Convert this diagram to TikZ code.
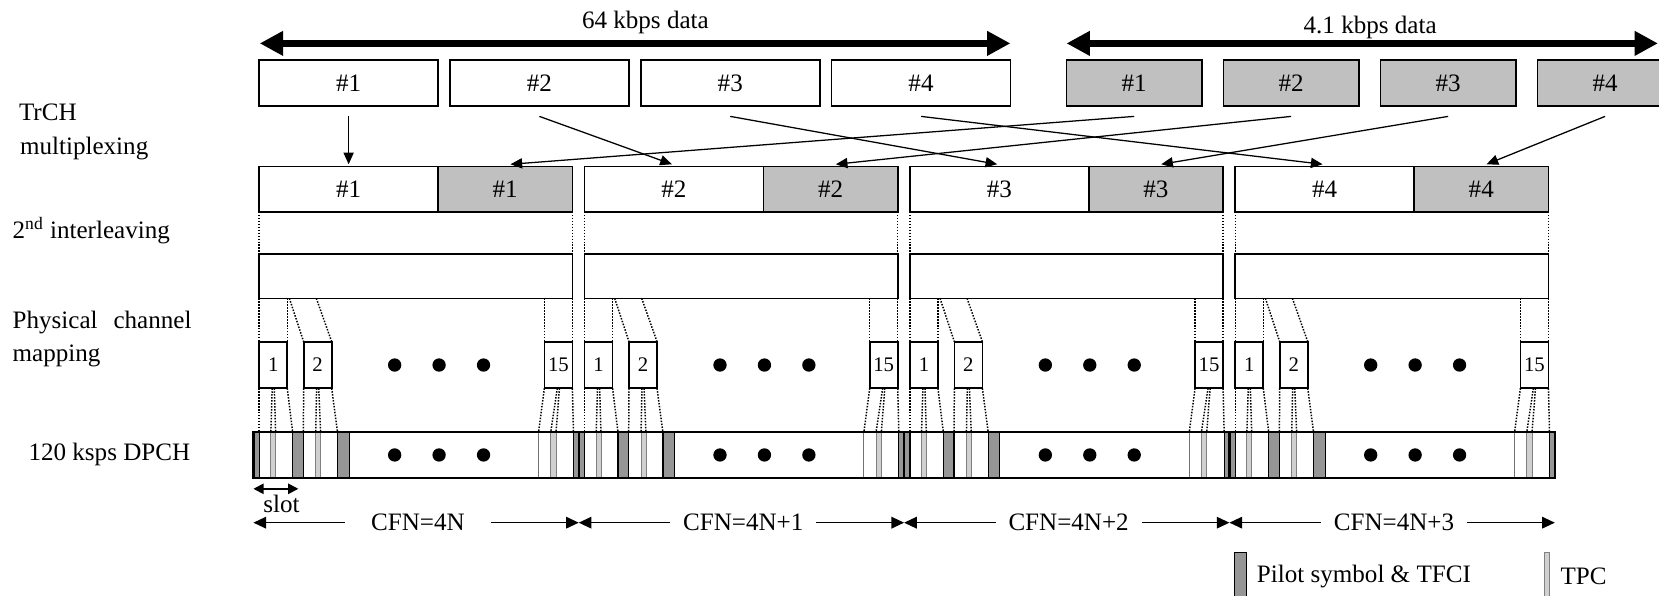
\documentclass[tikz,border=0pt]{standalone}
\usepackage{fontspec}
\setmainfont{Liberation Serif}
\usetikzlibrary{arrows.meta}
\definecolor{silver}{HTML}{C0C0C0}
\definecolor{pilotgray}{HTML}{969696}
\definecolor{tpcgray}{HTML}{D0D0D0}
\begin{document}
\begin{tikzpicture}[x=0.5pt,y=-0.5pt,
  font=\fontsize{11.85}{14}\selectfont,
  box/.style={draw, line width=0.8pt, inner sep=0pt, outer sep=0pt, minimum height=21.5pt},
  wbox/.style={box, fill=white},
  gbox/.style={box, fill=silver},
  ibox/.style={box, minimum height=21pt, minimum width=148pt},
  sbox/.style={draw, line width=0.8pt, inner sep=0pt, outer sep=0pt, minimum height=22pt, minimum width=13.25pt, font=\fontsize{9.8}{11}\selectfont},
  part/.style={inner sep=0pt, outer sep=0pt, minimum height=21.5pt},
  slotpart/.style={part, draw=black!55, line width=0.5pt, fill=white},
  tpcpart/.style={part, draw=black!50, line width=0.4pt, fill=tpcgray},
  pilotpart/.style={part, draw=black, line width=0.6pt, fill=pilotgray},
  grpbox/.style={part, minimum width=153.75pt, fill=white},
  dotline/.style={line width=0.7pt, dash pattern=on 0.7pt off 0.7pt},
  conn/.style={line width=0.6pt, -{Triangle[length=5.5pt,width=4.8pt]}},
  bigarrow/.style={line width=3.4pt, {Triangle[length=11pt,width=11pt]}-{Triangle[length=11pt,width=11pt]}},
  cfnarrow/.style={line width=0.6pt, -{Triangle[length=6pt,width=5.5pt]}},
  slotarrow/.style={line width=0.9pt, {Triangle[length=4.8pt,width=4.8pt]}-{Triangle[length=4.8pt,width=4.8pt]}},
  lbl/.style={inner sep=0pt, outer sep=0pt},
]
\useasboundingbox (0,0) rectangle (1568,563);
\clip (0,0) rectangle (1568,563);

% data rate arrows
\coordinate (a64l) at (245.5,41);
\coordinate (a64r) at (955,41);
\draw[bigarrow] (a64l) -- (a64r);
\node[lbl] (l64) at (610,21) {64 kbps data};
\coordinate (a41l) at (1008,41);
\coordinate (a41r) at (1567,41);
\draw[bigarrow] (a41l) -- (a41r);
\node[lbl] (l41) at (1295,26) {4.1 kbps data};

% top boxes
\foreach \i/\x in {1/329.5,2/509.8,3/690.2,4/870.5}
  \node[wbox, minimum width=84.5pt] (t\i) at (\x,78.5) {\#\i};
\foreach \i/\x in {1/1072,2/1220.3,3/1368.7,4/1517}
  \node[gbox, minimum width=64pt] (u\i) at (\x,78.5) {\#\i};

% left labels
\node[lbl, anchor=west] (lab1) at (18,106) {TrCH};
\node[lbl, anchor=west] (lab2) at (19,140) {multiplexing};
\node[lbl, anchor=west] (lab3) at (12,218) {2\textsuperscript{nd} interleaving};
\node[lbl, anchor=base west] (lab4) at (12,310) {Physical};
\node[lbl, anchor=base east] (lab5) at (181,310) {channel};
\node[lbl, anchor=west] (lab6) at (12,336) {mapping};
\node[lbl, anchor=west] (lab7) at (27,430) {120 ksps DPCH};

\foreach \i in {1,2,3,4}{
  \pgfmathsetmacro{\ofs}{307.5*(\i-1)}
  % multiplexed
  \node[wbox, minimum width=84.5pt] (mw\i) at (329.5+\ofs,178.75) {\#\i};
  \node[gbox, minimum width=63.5pt] (mg\i) at (477.5+\ofs,178.75) {\#\i};
  % interleaving
  \node[ibox] (il\i) at (393+\ofs,261) {};
  \draw[dotline] (mw\i.south west) -- (il\i.north west);
  \draw[dotline] (mg\i.south east) -- (il\i.north east);
  % slot boxes
  \node[sbox] (sa\i) at (258.25+\ofs,345) {1};
  \node[sbox] (sb\i) at (300.25+\ofs,345) {2};
  \node[sbox] (sc\i) at (527.75+\ofs,345) {15};
  \draw[dotline] (il\i.south west) -- (sa\i.north west);
  \draw[dotline] ([xshift=13.25pt]il\i.south west) -- (sa\i.north east);
  \draw[dotline] ([xshift=14.25pt]il\i.south west) -- (sb\i.north west);
  \draw[dotline] ([xshift=27pt]il\i.south west) -- (sb\i.north east);
  \draw[dotline] ([xshift=-13.25pt]il\i.south east) -- (sc\i.north west);
  \draw[dotline] (il\i.south east) -- (sc\i.north east);
  % DPCH
  \node[grpbox] (grp\i) at (393.25+\ofs,430) {};
  \node[slotpart, minimum width=15.8pt] (dsa\i) at (260.8+\ofs,430) {};
  \node[slotpart, minimum width=16.15pt] (dsb\i) at (302.85+\ofs,430) {};
  \node[slotpart, minimum width=16.5pt] (dsc\i) at (525.5+\ofs,430) {};
  \node[tpcpart, minimum width=2.25pt] (dta\i) at (258.25+\ofs,430) {};
  \node[tpcpart, minimum width=2.3pt] (dtb\i) at (300.7+\ofs,430) {};
  \node[tpcpart, minimum width=2.5pt] (dtc\i) at (523+\ofs,430) {};
  \node[pilotpart, minimum width=2.75pt] (dpz\i) at (242.25+\ofs,430) {};
  \node[pilotpart, minimum width=5.05pt] (dpa\i) at (281.65+\ofs,430) {};
  \node[pilotpart, minimum width=5.5pt] (dpb\i) at (324.5+\ofs,430) {};
  \node[pilotpart, minimum width=2.5pt] (dpc\i) at (544.5+\ofs,430) {};
  \draw[line width=1.1pt] (grp\i.north west) rectangle (grp\i.south east);
  % slot box -> DPCH
  \draw[dotline] (sa\i.south west) -- (dsa\i.north west);
  \draw[dotline] ([xshift=-0.5pt]sa\i.south) -- (dta\i.north west);
  \draw[dotline] ([xshift=0.5pt]sa\i.south) -- (dta\i.north east);
  \draw[dotline] (sa\i.south east) -- (dsa\i.north east);
  \draw[dotline] (sb\i.south west) -- (dsb\i.north west);
  \draw[dotline] ([xshift=-0.5pt]sb\i.south) -- (dtb\i.north west);
  \draw[dotline] ([xshift=0.5pt]sb\i.south) -- (dtb\i.north east);
  \draw[dotline] (sb\i.south east) -- (dsb\i.north east);
  \draw[dotline] (sc\i.south west) -- (dsc\i.north west);
  \draw[dotline] ([xshift=-0.5pt]sc\i.south) -- (dtc\i.north west);
  \draw[dotline] ([xshift=0.5pt]sc\i.south) -- (dtc\i.north east);
  \draw[dotline] (sc\i.south east) -- (dsc\i.north east);
  % ellipsis dots
  \foreach \x in {373,415,457}{
    \fill (\x+\ofs,345) circle (3.15pt);
    \fill (\x+\ofs,430) circle (3.15pt);
  }
  % CFN arrow ends
  \coordinate (cl\i) at (239.5+\ofs,494);
  \coordinate (cr\i) at (547+\ofs,494);
}

% multiplexing arrows
\draw[conn] ([yshift=-5pt]t1.south) -- ([yshift=1pt]mw1.north);
\foreach \i in {2,3,4}
  \draw[conn] ([yshift=-5pt]t\i.south) -- ([xshift=-1pt,yshift=1pt]mw\i.north);
\foreach \i in {1,2,3,4}
  \draw[conn] ([yshift=-5pt]u\i.south) -- ([xshift=2.5pt,yshift=1pt]mg\i.north);

% CFN labels
\foreach \i/\t in {1/CFN=4N,2/CFN=4N+1,3/CFN=4N+2,4/CFN=4N+3}{
  \pgfmathsetmacro{\ofs}{307.5*(\i-1)}
  \node[lbl, minimum width=69pt] (cfn\i) at (395+\ofs,494) {\t};
  \draw[cfnarrow] (cfn\i.west) -- (cl\i);
  \draw[cfnarrow] (cfn\i.east) -- (cr\i);
}

% slot arrow
\coordinate (sl1) at (239.5,462);
\coordinate (sl2) at (282,462);
\draw[slotarrow] (sl1) -- (sl2);
\node[lbl] (slt) at (266,476) {slot};

% legend
\node[pilotpart, minimum width=5.5pt, minimum height=22pt, anchor=north west] (legp) at (1167,522) {};
\node[lbl, anchor=west] (legpt) at (1188,545) {Pilot symbol \& TFCI};
\node[tpcpart, minimum width=2.25pt, minimum height=22pt, anchor=north west] (legt) at (1459.5,522) {};
\node[lbl, anchor=west] (legtt) at (1475,545) {TPC};
\end{tikzpicture}
\end{document}
